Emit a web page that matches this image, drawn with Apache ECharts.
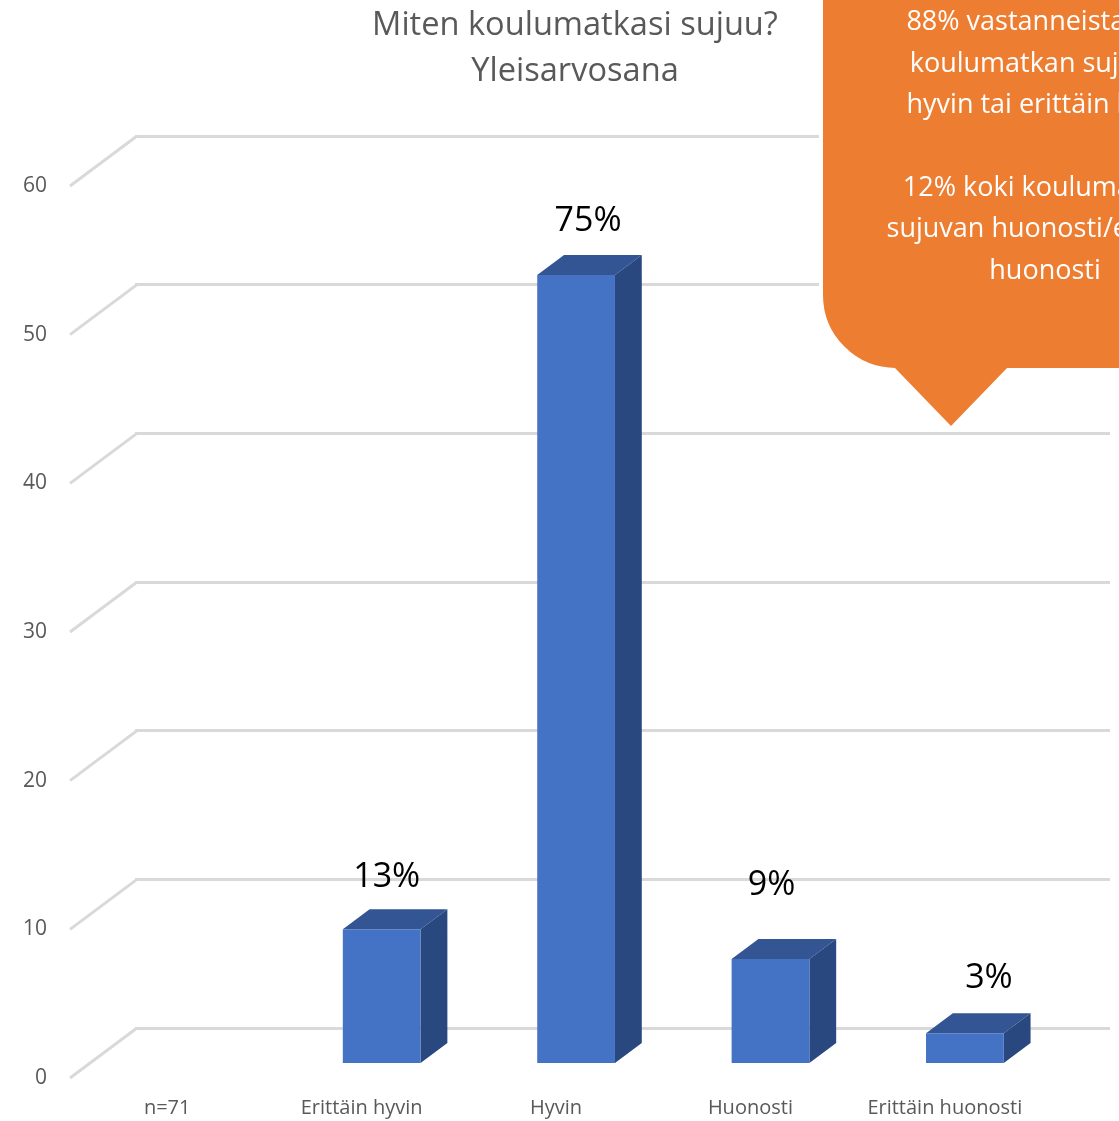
<!DOCTYPE html>
<html>
<head>
<meta charset="utf-8">
<style>
  html, body { margin: 0; padding: 0; background: #fff; }
  #main { width: 1119px; height: 1121px; }
</style>
<script src="https://cdn.jsdelivr.net/npm/echarts@6/dist/echarts.min.js"></script>
</head>
<body>
<div id="main"></div>
<script>
var categories = ["n=71", "Erittäin hyvin", "Hyvin", "Huonosti", "Erittäin huonosti"];
var answers = [null, 9, 53, 7, 2];
var percentLabels = ["", "13%", "75%", "9%", "3%"];
var yTicks = [0, 10, 20, 30, 40, 50, 60];
var titleLines = ["Miten koulumatkasi sujuu?", "Yleisarvosana"];
var calloutLines = [
    "88% vastanneista koki",
    "koulumatkan sujuvan",
    "hyvin tai erittäin hyvin",
    "",
    "12% koki koulumatkan",
    "sujuvan huonosti/erittäin",
    "huonosti"
];

// label nudges, the source chart has them hand placed
var labelShift = [[0, 0], [5, -52], [12, -54], [1, -74], [24, -55]];

var fontName = "'Open Sans', sans-serif";
var floorDepth = [67, -50]; // front axis -> back wall
var barStart = 0.3; // how far in the floor the bar starts
var barDepth = 0.4; // bar depth as part of the floor depth

function renderBar(params, api) {
    var value = api.value(1);
    if (isNaN(value)) return;
    var i = api.value(0);
    var top = api.coord([i, value]);
    var bottom = api.coord([i, 0]);
    var w = api.size([1, 0])[0] * 0.4;
    var dx = floorDepth[0] * barStart;
    var dy = floorDepth[1] * barStart;
    var ox = floorDepth[0] * barDepth;
    var oy = floorDepth[1] * barDepth;
    var x0 = top[0] + dx - w / 2;
    var x1 = x0 + w;
    var y0 = top[1] + dy;
    var y1 = bottom[1] + dy;
    return {
        type: "group",
        children: [
            {
                type: "polygon",
                shape: { points: [[x0, y0], [x1, y0], [x1 + ox, y0 + oy], [x0 + ox, y0 + oy]] },
                style: { fill: "#335593" }
            },
            {
                type: "polygon",
                shape: { points: [[x1, y0], [x1 + ox, y0 + oy], [x1 + ox, y1 + oy], [x1, y1]] },
                style: { fill: "#2a4880" }
            },
            {
                type: "rect",
                shape: { x: x0, y: y0, width: w, height: y1 - y0 },
                style: { fill: "#4472c4" }
            },
            {
                type: "text",
                x: top[0] + dx + labelShift[i][0],
                y: top[1] + dy + labelShift[i][1],
                style: {
                    text: percentLabels[i],
                    fill: "#000",
                    font: "34px " + fontName,
                    align: "center",
                    verticalAlign: "middle"
                }
            }
        ]
    };
}

// slanted floor lines from the front axis up to the back wall
function renderSlant(params, api) {
    var p = api.coord([0, api.value(0)]);
    var left = p[0] - api.size([1, 0])[0] / 2;
    return {
        type: "line",
        shape: { x1: left, y1: p[1], x2: left + floorDepth[0], y2: p[1] + floorDepth[1] },
        style: { stroke: "#d9d9d9", lineWidth: 3 }
    };
}

var chart = echarts.init(document.getElementById("main"));

chart.setOption({
    animation: false,
    title: {
        text: titleLines.join("\n"),
        left: 570,
        top: -2,
        textAlign: "center",
        textStyle: {
            color: "#595959",
            fontFamily: fontName,
            fontWeight: "normal",
            fontSize: 32.6,
            lineHeight: 46
        }
    },
    grid: [
        { left: 70, right: 77, top: 186, height: 892 },
        { left: 135, right: 9, top: 136, height: 892 }
    ],
    xAxis: [
        {
            type: "category",
            data: categories,
            axisLine: { show: false },
            axisTick: { show: false },
            axisLabel: { color: "#595959", fontFamily: fontName, fontSize: 20, margin: 20, interval: 0 }
        },
        { type: "category", gridIndex: 1, data: categories, show: false }
    ],
    yAxis: [
        {
            type: "value",
            min: 0,
            max: 60,
            interval: 10,
            axisLine: { show: false },
            axisTick: { show: false },
            splitLine: { show: false },
            axisLabel: { color: "#595959", fontFamily: fontName, fontSize: 21, margin: 23 }
        },
        {
            type: "value",
            gridIndex: 1,
            min: 0,
            max: 60,
            interval: 10,
            axisLine: { show: false },
            axisTick: { show: false },
            axisLabel: { show: false },
            splitLine: { lineStyle: { color: "#d9d9d9", width: 3 } }
        }
    ],
    series: [
        {
            type: "custom",
            renderItem: renderSlant,
            data: yTicks.map(function (t) { return [t]; }),
            encode: { y: 0 },
            silent: true,
            z: 1
        },
        {
            type: "custom",
            renderItem: renderBar,
            data: answers.map(function (v, i) { return [i, v]; }),
            encode: { x: 0, y: 1 },
            z: 2
        }
    ],
    graphic: [
        {
            type: "rect",
            z: 10,
            shape: { x: 821, y: -6, width: 310, height: 376, r: [0, 0, 0, 75] },
            style: { fill: "#ed7d31", stroke: "#fff", lineWidth: 4 }
        },
        {
            type: "polygon",
            z: 10,
            shape: { points: [[894, 367], [951, 426], [1008, 367]] },
            style: { fill: "#ed7d31" }
        },
        {
            type: "text",
            z: 11,
            x: 1045,
            y: 2,
            style: {
                text: calloutLines.join("\n"),
                fill: "#fff",
                font: "27px " + fontName,
                lineHeight: 41.4,
                align: "center"
            }
        }
    ]
});
</script>
</body>
</html>
